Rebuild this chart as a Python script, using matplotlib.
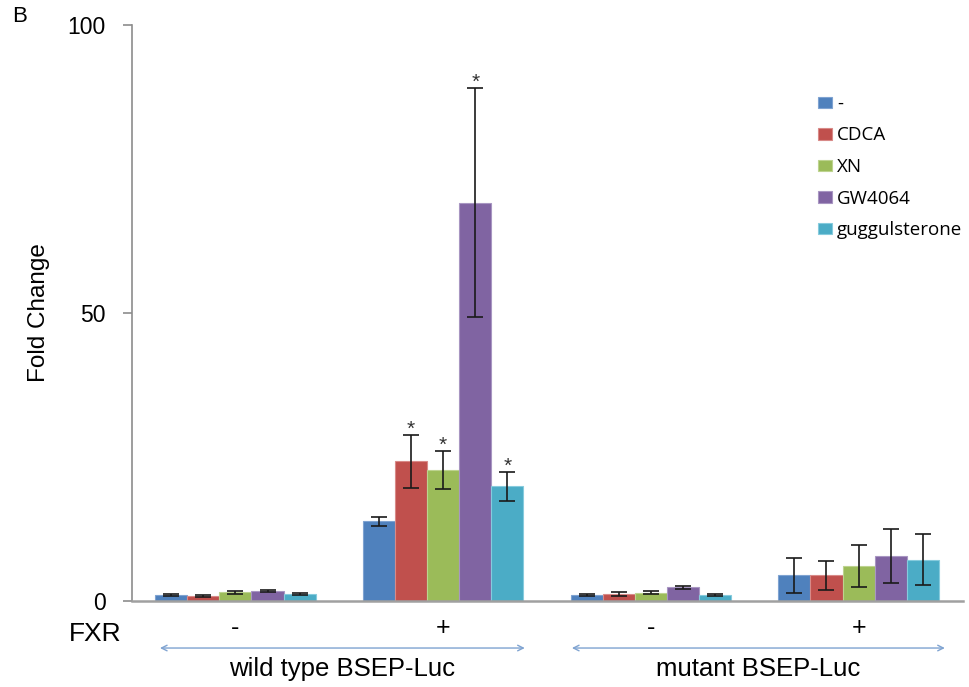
import numpy as np
import matplotlib.pyplot as plt
import matplotlib.transforms as mtransforms

treatments = ['-', 'CDCA', 'XN', 'GW4064', 'guggulsterone']
colors = ['#4F81BD', '#C0504D', '#9BBB59', '#8064A2', '#4BACC6']
edges = ['#7FA3D1', '#D88A88', '#BDD38F', '#A896C2', '#86CBDD']
fxr = ['-', '+', '-', '+']
constructs = ['wild type BSEP-Luc', 'mutant BSEP-Luc']

# fold change per treatment, groups: wt/-FXR, wt/+FXR, mut/-FXR, mut/+FXR
means = {
    '-':             [1.0, 13.8, 1.0, 4.4],
    'CDCA':          [0.8, 24.2, 1.15, 4.4],
    'XN':            [1.5, 22.7, 1.35, 6.05],
    'GW4064':        [1.7, 69.1, 2.3, 7.7],
    'guggulsterone': [1.15, 19.9, 1.0, 7.1],
}
errors = {
    '-':             [0.15, 0.8, 0.15, 3.0],
    'CDCA':          [0.15, 4.6, 0.3, 2.55],
    'XN':            [0.25, 3.3, 0.25, 3.65],
    'GW4064':        [0.15, 19.9, 0.2, 4.7],
    'guggulsterone': [0.15, 2.5, 0.15, 4.45],
}
# significance marks (group index, treatment)
stars = [(1, 'CDCA'), (1, 'XN'), (1, 'GW4064'), (1, 'guggulsterone')]

FONT = 'Liberation Sans'
W, H = 969, 687
dpi = 100
fig = plt.figure(figsize=(W / dpi, H / dpi), dpi=dpi)
ax = fig.add_axes([131.5 / W, 86.3 / H, 831 / W, 575.7 / H])

x = np.arange(len(fxr))
w = 0.1547
for i, t in enumerate(treatments):
    pos = x + (i - 2) * w
    ax.bar(pos, means[t], w, color=colors[i], edgecolor=edges[i], linewidth=0.8,
           label=t, zorder=2)
    ax.errorbar(pos, means[t], yerr=errors[t], fmt='none', ecolor='#1a1a1a',
                elinewidth=1.2, capsize=6, capthick=1.2, zorder=3)

for g, t in stars:
    i = treatments.index(t)
    ax.text(x[g] + (i - 2) * w, means[t][g] + errors[t][g], '*',
            ha='center', va='baseline', fontsize=15, color='#333333',
            family=FONT)

ax.set_xlim(-0.5, 3.5)
ax.set_ylim(0, 100)
ax.set_yticks([0, 50, 100])
ax.set_yticklabels(['0', '50', '100'], fontsize=16.5, family=FONT)
ax.set_xticks([])
for s in ['top', 'right']:
    ax.spines[s].set_visible(False)
ax.spines['left'].set_color('#8c8c8c')
ax.spines['left'].set_linewidth(1.2)
ax.spines['bottom'].set_color('#a0a0a0')
ax.spines['bottom'].set_linewidth(1.8)
ax.tick_params(axis='y', color='#8c8c8c', length=6.5, width=1.2, pad=12)

ax.set_ylabel('Fold Change', fontsize=17.5, family=FONT)
ax.yaxis.set_label_coords(-0.098, 0.5)

trans = mtransforms.blended_transform_factory(ax.transData, ax.transAxes)
for xi, f in zip(x, fxr):
    ax.text(xi, -0.0474, f, transform=trans, ha='center', va='center',
            fontsize=18, family=FONT)
fig.text(95 / W, 1 - 634 / H, 'FXR', ha='center', va='center',
         fontsize=19, family=FONT)

spans = [(-0.363, 1.393), (1.620, 3.415)]
for (a, b), lab in zip(spans, constructs):
    ax.annotate('', xy=(a, -0.0822), xytext=(b, -0.0822), xycoords=trans,
                textcoords=trans, annotation_clip=False,
                arrowprops=dict(arrowstyle='<->', color='#7FA3D1', lw=1.0,
                                shrinkA=0, shrinkB=0))
    ax.text((a + b) / 2, -0.1186, lab, transform=trans, ha='center', va='center',
            fontsize=18.5, family=FONT)

fig.text(20 / W, 1 - 17 / H, 'B', ha='center', va='center', fontsize=16,
         family=FONT)

ax.legend(loc='upper left', bbox_to_anchor=(818 / W, 1 - 95 / H),
          bbox_transform=fig.transFigure, frameon=False, borderpad=0,
          borderaxespad=0, prop={'family': 'Open Sans', 'size': 13.5},
          handlelength=0.75, handleheight=0.55, handletextpad=0.25,
          labelspacing=0.72)

plt.savefig('out.png', dpi=dpi)
